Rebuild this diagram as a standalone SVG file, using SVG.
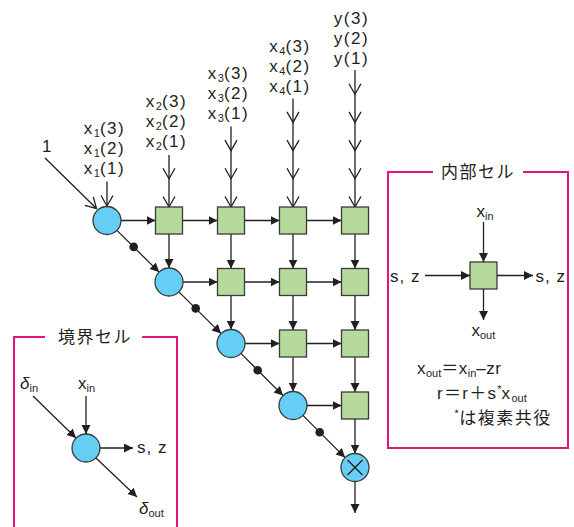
<svg xmlns="http://www.w3.org/2000/svg" xmlns:xlink="http://www.w3.org/1999/xlink" width="574" height="527" viewBox="0 0 574 527">
<style>
.t{font-family:"Liberation Sans","Noto Sans CJK JP",sans-serif;font-size:17px;fill:#231f20}
.lab{letter-spacing:1.5px}
.sub{font-size:11px;letter-spacing:0}
.jp{font-family:"Noto Sans CJK JP",sans-serif;font-size:17px;fill:#231f20;letter-spacing:1.5px}
.ln{stroke:#231f20;stroke-width:1.3;fill:none}
.arr{marker-end:url(#ah)}
.circ{fill:#66cdf5;stroke:#3a3a3a;stroke-width:1.3}
.sq{fill:#b6da9c;stroke:#3a3a3a;stroke-width:1.3}
.pink{stroke:#e5127d;stroke-width:2;fill:none}
.dot{fill:#231f20}
</style>
<defs>
<marker id="ah" markerUnits="userSpaceOnUse" markerWidth="10" markerHeight="10" refX="9" refY="4.5" orient="auto">
<path d="M0,0 L9,4.5 L0,9 z" fill="#231f20"/>
</marker>
<path id="chev" d="M-6,-10.5 L0,0 L6,-10.5" fill="none" stroke="#231f20" stroke-width="1.3"/>
</defs>

<!-- input labels -->
<g id="labels">
<text class="t" x="42" y="152">1</text>
<text class="t lab" text-anchor="middle" x="104.5" y="133.5">x<tspan class="sub" dy="3">1</tspan><tspan dy="-3">(3)</tspan></text>
<text class="t lab" text-anchor="middle" x="104.5" y="153.5">x<tspan class="sub" dy="3">1</tspan><tspan dy="-3">(2)</tspan></text>
<text class="t lab" text-anchor="middle" x="104.5" y="173.5">x<tspan class="sub" dy="3">1</tspan><tspan dy="-3">(1)</tspan></text>
<text class="t lab" text-anchor="middle" x="166.5" y="106.5">x<tspan class="sub" dy="3">2</tspan><tspan dy="-3">(3)</tspan></text>
<text class="t lab" text-anchor="middle" x="166.5" y="126.5">x<tspan class="sub" dy="3">2</tspan><tspan dy="-3">(2)</tspan></text>
<text class="t lab" text-anchor="middle" x="166.5" y="146.5">x<tspan class="sub" dy="3">2</tspan><tspan dy="-3">(1)</tspan></text>
<text class="t lab" text-anchor="middle" x="228.5" y="78.5">x<tspan class="sub" dy="3">3</tspan><tspan dy="-3">(3)</tspan></text>
<text class="t lab" text-anchor="middle" x="228.5" y="98.5">x<tspan class="sub" dy="3">3</tspan><tspan dy="-3">(2)</tspan></text>
<text class="t lab" text-anchor="middle" x="228.5" y="118.5">x<tspan class="sub" dy="3">3</tspan><tspan dy="-3">(1)</tspan></text>
<text class="t lab" text-anchor="middle" x="290" y="51.5">x<tspan class="sub" dy="3">4</tspan><tspan dy="-3">(3)</tspan></text>
<text class="t lab" text-anchor="middle" x="290" y="71.5">x<tspan class="sub" dy="3">4</tspan><tspan dy="-3">(2)</tspan></text>
<text class="t lab" text-anchor="middle" x="290" y="91.5">x<tspan class="sub" dy="3">4</tspan><tspan dy="-3">(1)</tspan></text>
<text class="t lab" text-anchor="middle" x="351.5" y="24">y(3)</text>
<text class="t lab" text-anchor="middle" x="351.5" y="44">y(2)</text>
<text class="t lab" text-anchor="middle" x="351.5" y="64">y(1)</text>
</g>

<!-- connectors -->
<g id="connectors">
<line class="ln" x1="45" y1="158" x2="96.5" y2="208.5"/>
<use xlink:href="#chev" transform="translate(96.5,208.5) rotate(-45)"/>
<line class="ln" x1="107" y1="181.5" x2="107" y2="206"/>
<use xlink:href="#chev" x="107" y="206"/>
<line class="ln" x1="169" y1="155" x2="169" y2="207"/>
<use xlink:href="#chev" x="169" y="207"/><use xlink:href="#chev" x="169" y="178.8"/>
<line class="ln" x1="231" y1="126.5" x2="231" y2="207"/>
<use xlink:href="#chev" x="231" y="207"/><use xlink:href="#chev" x="231" y="178.8"/><use xlink:href="#chev" x="231" y="150.6"/>
<line class="ln" x1="293" y1="98.5" x2="293" y2="207"/>
<use xlink:href="#chev" x="293" y="207"/><use xlink:href="#chev" x="293" y="178.8"/><use xlink:href="#chev" x="293" y="150.6"/><use xlink:href="#chev" x="293" y="122.4"/>
<line class="ln" x1="355" y1="70" x2="355" y2="207"/>
<use xlink:href="#chev" x="355" y="207"/><use xlink:href="#chev" x="355" y="178.8"/><use xlink:href="#chev" x="355" y="150.6"/><use xlink:href="#chev" x="355" y="122.4"/><use xlink:href="#chev" x="355" y="94.2"/>
<line class="ln arr" x1="121" y1="220.5" x2="155.5" y2="220.5"/>
<line class="ln arr" x1="182.5" y1="220.5" x2="217.5" y2="220.5"/>
<line class="ln arr" x1="244.5" y1="220.5" x2="279.5" y2="220.5"/>
<line class="ln arr" x1="306.5" y1="220.5" x2="341.5" y2="220.5"/>
<line class="ln arr" x1="183" y1="282" x2="217.5" y2="282"/>
<line class="ln arr" x1="244.5" y1="282" x2="279.5" y2="282"/>
<line class="ln arr" x1="306.5" y1="282" x2="341.5" y2="282"/>
<line class="ln arr" x1="245" y1="343.5" x2="279.5" y2="343.5"/>
<line class="ln arr" x1="306.5" y1="343.5" x2="341.5" y2="343.5"/>
<line class="ln arr" x1="307" y1="405.5" x2="341.5" y2="405.5"/>
<line class="ln arr" x1="169" y1="234" x2="169" y2="268"/>
<line class="ln arr" x1="231" y1="234" x2="231" y2="268.5"/>
<line class="ln arr" x1="231" y1="295.5" x2="231" y2="329.5"/>
<line class="ln arr" x1="293" y1="234" x2="293" y2="268.5"/>
<line class="ln arr" x1="293" y1="295.5" x2="293" y2="330"/>
<line class="ln arr" x1="293" y1="357" x2="293" y2="391.5"/>
<line class="ln arr" x1="355" y1="234" x2="355" y2="268.5"/>
<line class="ln arr" x1="355" y1="295.5" x2="355" y2="330"/>
<line class="ln arr" x1="355" y1="357" x2="355" y2="392"/>
<line class="ln arr" x1="355" y1="419" x2="355" y2="453.5"/>
<line class="ln arr" x1="355" y1="481.5" x2="355" y2="513"/>
<line class="ln arr" x1="116.9" y1="230.4" x2="159.1" y2="272.1"/>
<circle class="dot" cx="133.7" cy="246.9" r="4.3"/>
<line class="ln arr" x1="178.9" y1="291.9" x2="221.1" y2="333.6"/>
<circle class="dot" cx="195.7" cy="308.4" r="4.3"/>
<line class="ln arr" x1="240.9" y1="353.4" x2="283.1" y2="395.6"/>
<circle class="dot" cx="257.7" cy="370.2" r="4.3"/>
<line class="ln arr" x1="302.9" y1="415.4" x2="345.1" y2="457.6"/>
<circle class="dot" cx="319.7" cy="432.2" r="4.3"/>
</g>

<!-- boundary cells -->
<g id="b0"><circle class="circ" cx="107" cy="220.5" r="14"/></g>
<g id="b1"><circle class="circ" cx="169" cy="282" r="14"/></g>
<g id="b2"><circle class="circ" cx="231" cy="343.5" r="14"/></g>
<g id="b3"><circle class="circ" cx="293" cy="405.5" r="14"/></g>
<g id="mult"><circle class="circ" cx="355" cy="467.5" r="14"/><path class="ln" d="M347.5,460 L362.5,475 M362.5,460 L347.5,475"/></g>

<!-- internal cells -->
<g id="c01"><rect class="sq" x="155.5" y="207" width="27" height="27"/></g>
<g id="c02"><rect class="sq" x="217.5" y="207" width="27" height="27"/></g>
<g id="c03"><rect class="sq" x="279.5" y="207" width="27" height="27"/></g>
<g id="c04"><rect class="sq" x="341.5" y="207" width="27" height="27"/></g>
<g id="c12"><rect class="sq" x="217.5" y="268.5" width="27" height="27"/></g>
<g id="c13"><rect class="sq" x="279.5" y="268.5" width="27" height="27"/></g>
<g id="c14"><rect class="sq" x="341.5" y="268.5" width="27" height="27"/></g>
<g id="c23"><rect class="sq" x="279.5" y="330" width="27" height="27"/></g>
<g id="c24"><rect class="sq" x="341.5" y="330" width="27" height="27"/></g>
<g id="c34"><rect class="sq" x="341.5" y="392" width="27" height="27"/></g>

<!-- legend: internal cell -->
<g id="legend-internal">
<path class="pink" d="M433,172 H388 V448 H568 V172 H523"/>
<text class="jp" x="478" y="177.5" text-anchor="middle">内部セル</text>
<rect class="sq" x="470" y="262" width="27" height="27"/>
<text class="t" x="476.5" y="216.5">x<tspan class="sub" dy="3">in</tspan></text>
<line class="ln arr" x1="483.5" y1="222" x2="483.5" y2="262"/>
<text class="t" x="390" y="282" letter-spacing="1">s, z</text>
<line class="ln arr" x1="425" y1="275.5" x2="470" y2="275.5"/>
<line class="ln arr" x1="497" y1="275.5" x2="533" y2="275.5"/>
<text class="t" x="535.5" y="282" letter-spacing="1">s, z</text>
<line class="ln arr" x1="483.5" y1="289" x2="483.5" y2="320"/>
<text class="t" x="471.5" y="336">x<tspan class="sub" dy="3">out</tspan></text>
<text class="t" x="417" y="374" letter-spacing="0.5">x<tspan class="sub" dy="3">out</tspan><tspan dy="-3">＝x</tspan><tspan class="sub" dy="3">in</tspan><tspan dy="-3">–zr</tspan></text>
<text class="t" x="437" y="399" font-size="18" letter-spacing="1.3">r＝r＋s<tspan class="sub" dy="-6">*</tspan><tspan dy="6">x</tspan><tspan class="sub" dy="3">out</tspan></text>
<text class="jp" x="454" y="424"><tspan class="sub" dy="-6">*</tspan><tspan dy="6">は複素共役</tspan></text>
</g>

<!-- legend: boundary cell -->
<g id="legend-boundary">
<path class="pink" d="M14,527 V337 H45 M142,337 H177 V527"/>
<text class="jp" x="95" y="343" text-anchor="middle">境界セル</text>
<circle class="circ" cx="86" cy="448" r="14"/>
<text class="t" x="20" y="389"><tspan font-style="italic">δ</tspan><tspan class="sub" dy="3">in</tspan></text>
<line class="ln arr" x1="33" y1="396" x2="76" y2="438"/>
<text class="t" x="78" y="389">x<tspan class="sub" dy="3">in</tspan></text>
<line class="ln arr" x1="86" y1="396" x2="86" y2="434"/>
<line class="ln arr" x1="100" y1="448" x2="133" y2="448"/>
<text class="t" x="137" y="453" letter-spacing="1">s, z</text>
<line class="ln arr" x1="96" y1="458" x2="137" y2="497"/>
<text class="t" x="139" y="514"><tspan font-style="italic">δ</tspan><tspan class="sub" dy="3">out</tspan></text>
</g>
</svg>
